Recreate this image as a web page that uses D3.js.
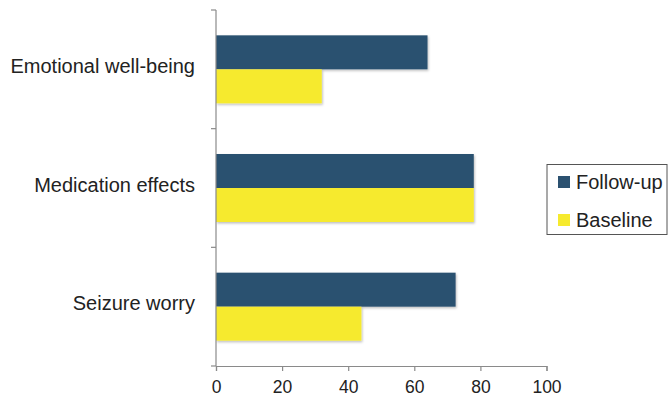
<!DOCTYPE html>
<html>
<head>
<meta charset="utf-8">
<script src="https://cdn.jsdelivr.net/npm/d3@7"></script>
<style>
  body { margin: 0; background: #fff; }
  svg { display: block; font-family: "Liberation Sans", Arial, sans-serif; }
</style>
</head>
<body>
<svg id="chart" width="672" height="398"></svg>
<script>
// Quality-of-life domain scores at baseline and follow-up
const categories = ["Emotional well-being", "Medication effects", "Seizure worry"];
const seriesNames = ["Follow-up", "Baseline"];
const followUp = [64, 78, 72.5];
const baseline = [32, 78, 44];
const xTicks = [0, 20, 40, 60, 80, 100];
const colors = ["#2b5170", "#f6ea2e"];

const svg = d3.select("#chart");
const axisY = 366;

const x = d3.scaleLinear().domain([0, 100]).range([216, 546.5]);
const y = d3.scaleBand().domain(categories).range([10, axisY])
  .paddingInner(0.427).paddingOuter(0.2135);
const ySub = d3.scaleBand().domain(seriesNames).range([0, y.bandwidth()]);

const defs = svg.append("defs");
const f = defs.append("filter").attr("id", "shadow")
  .attr("x", "-5%").attr("y", "-10%").attr("width", "115%").attr("height", "130%");
f.append("feDropShadow").attr("dx", 1).attr("dy", 1.5).attr("stdDeviation", 1)
  .attr("flood-color", "#000").attr("flood-opacity", 0.25);

const rows = categories.map((c, i) => ({ cat: c, vals: [followUp[i], baseline[i]] }));

const g = svg.append("g");
rows.forEach(r => {
  r.vals.forEach((v, j) => {
    g.append("rect")
      .attr("x", x(0))
      .attr("y", y(r.cat) + ySub(seriesNames[j]))
      .attr("width", x(v) - x(0))
      .attr("height", ySub.bandwidth())
      .attr("fill", colors[j])
      .attr("filter", "url(#shadow)");
  });
});

// Category axis: line with short ticks at band boundaries
const axisColor = "#8a8a8a";
const yLine = svg.append("g");
yLine.append("line").attr("x1", x(0)).attr("x2", x(0))
  .attr("y1", 10).attr("y2", axisY)
  .attr("stroke", axisColor).attr("stroke-width", 1.2);
const step = y.step();
for (let k = 0; k <= categories.length; k++) {
  const yy = 10 + k * step;
  yLine.append("line").attr("x1", x(0) - 5).attr("x2", x(0))
    .attr("y1", yy).attr("y2", yy).attr("stroke", axisColor).attr("stroke-width", 1.2);
}
categories.forEach(c => {
  svg.append("text")
    .attr("x", 195)
    .attr("y", y(c) + y.bandwidth() / 2 + 3.5)
    .attr("text-anchor", "end")
    .attr("font-size", 20)
    .attr("fill", "#222")
    .text(c);
});

// Value axis
const xAxis = d3.axisBottom(x).tickValues(xTicks).tickSize(5).tickPadding(5);
const gx = svg.append("g").attr("transform", `translate(0,${axisY})`).call(xAxis);
gx.select(".domain").attr("stroke", axisColor).attr("stroke-width", 1.2);
gx.selectAll(".tick line").attr("stroke", axisColor).attr("stroke-width", 1.2);
gx.selectAll(".tick text").attr("font-size", 17.5).attr("fill", "#222")
  .attr("font-family", "Liberation Sans, Arial, sans-serif")
  .attr("y", 27).attr("dy", 0);

// Legend
const lg = svg.append("g").attr("transform", "translate(547,164.5)");
lg.append("rect").attr("width", 120).attr("height", 70)
  .attr("fill", "#fff").attr("stroke", "#555").attr("stroke-width", 1);
seriesNames.forEach((s, i) => {
  const cy = 17.5 + i * 38;
  lg.append("rect").attr("x", 11).attr("y", cy - 6).attr("width", 12).attr("height", 12)
    .attr("fill", colors[i]);
  lg.append("text").attr("x", 29).attr("y", cy + 7)
    .attr("font-size", 20).attr("fill", "#222").text(s);
});
</script>
</body>
</html>
